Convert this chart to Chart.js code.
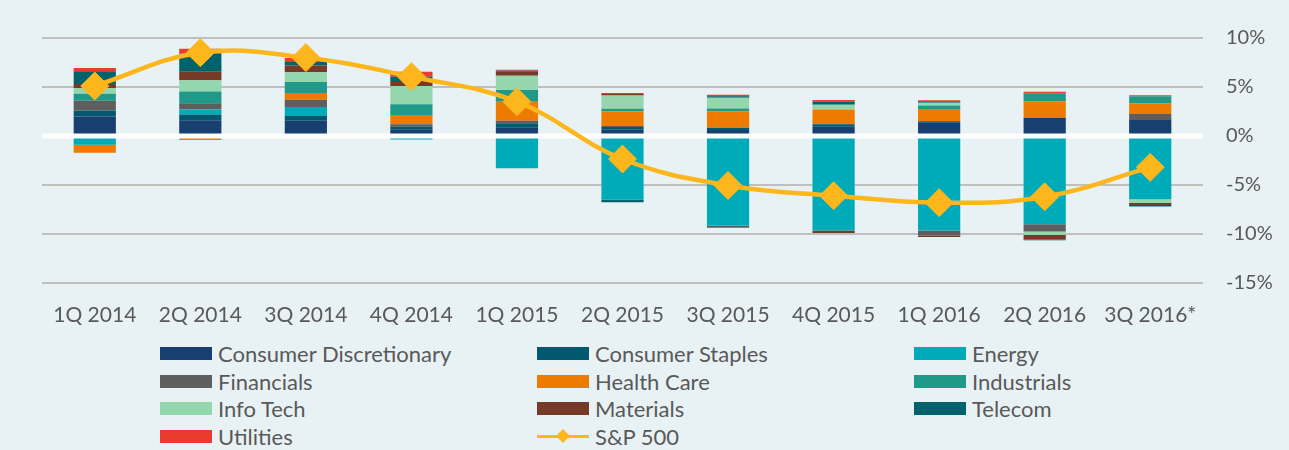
<!DOCTYPE html>
<html>
<head>
<meta charset="utf-8">
<script src="https://cdn.jsdelivr.net/npm/chart.js@4"></script>
<style>
    html, body { margin: 0; padding: 0; background: #e8f1f4; }
    #wrap { position: relative; width: 1289px; height: 450px; overflow: hidden; }
    #chart { position: absolute; left: 0; top: 0; }
    #legend {
        position: absolute; left: 160px; top: 340px;
        display: grid; grid-template-columns: 377px 377px 377px;
        grid-auto-rows: 27.6px;
        font-family: Lato, sans-serif; font-size: 22px; color: #595959;
    }
    .item { display: flex; align-items: center; white-space: nowrap; }
    .box { width: 52px; height: 13px; margin-right: 6px; flex: none; }
    .lineKey { position: relative; width: 52px; height: 13px; margin-right: 6px; flex: none; }
    .lineKey .bar { position: absolute; left: 0; right: 0; top: 5px; height: 3px; }
    .lineKey .dia { position: absolute; left: 21px; top: 1px; width: 10px; height: 10px; transform: rotate(45deg); }
</style>
</head>
<body>
<div id="wrap">
    <canvas id="chart" width="1289" height="335"></canvas>
    <div id="legend"></div>
</div>
<script>
const quarters = ['1Q 2014', '2Q 2014', '3Q 2014', '4Q 2014', '1Q 2015', '2Q 2015', '3Q 2015', '4Q 2015', '1Q 2016', '2Q 2016', '3Q 2016*'];

const consumerDiscretionary = [2.0, 1.6, 1.55, 0.7, 0.9, 0.65, 0.6, 0.95, 1.4, 1.85, 1.7];
const consumerStaples = [0.6, 0.6, 0.5, 0.25, 0.4, 0.27, 0.23, 0.25, 0.1, 0, 0];
const energy = [-0.9, 0.5, 0.9, -0.35, -3.3, -6.5, -9.15, -9.65, -9.65, -9.0, -6.45];
const financials = [1.0, 0.65, 0.75, 0.25, 0.25, 0.1, -0.2, 0, -0.5, -0.75, 0.55];
const healthCare = [-0.8, -0.4, 0.7, 0.95, 1.95, 1.5, 1.7, 1.5, 1.25, 1.7, 1.1];
const industrials = [0.7, 1.2, 1.1, 1.1, 1.2, 0.25, 0.27, 0, 0.35, 0.8, 0.7];
const infoTech = [0.6, 1.15, 1.0, 1.85, 1.45, 1.35, 1.1, 0.5, 0.3, -0.35, -0.35];
const materials = [0.4, 0.9, 0.7, 0.5, 0.4, 0.17, 0, -0.25, -0.15, -0.45, -0.25];
const telecom = [1.3, 1.8, 0.35, 0.45, 0.1, -0.25, 0.15, 0.3, 0.15, -0.1, -0.15];
const utilities = [0.35, 0.5, 0.4, 0.5, 0.1, 0.1, 0.15, 0.17, 0.1, 0.17, 0.1];
const sp500 = [5.1, 8.5, 8.0, 6.05, 3.5, -2.35, -5.05, -6.1, -6.8, -6.2, -3.2];

const yTicks = [10, 5, 0, -5, -10, -15];

const sectors = [
    { label: 'Consumer Discretionary', data: consumerDiscretionary, color: '#173f6f' },
    { label: 'Consumer Staples', data: consumerStaples, color: '#02586e' },
    { label: 'Energy', data: energy, color: '#00abb9' },
    { label: 'Financials', data: financials, color: '#5e5e5e' },
    { label: 'Health Care', data: healthCare, color: '#ef7a00' },
    { label: 'Industrials', data: industrials, color: '#1f9a89' },
    { label: 'Info Tech', data: infoTech, color: '#94d6ad' },
    { label: 'Materials', data: materials, color: '#763a28' },
    { label: 'Telecom', data: telecom, color: '#00636b' },
    { label: 'Utilities', data: utilities, color: '#e73c2f' }
];
const lineColor = '#fdb61c';

const datasets = sectors.map(s => ({
    type: 'bar',
    label: s.label,
    data: s.data,
    backgroundColor: s.color,
    borderWidth: 0,
    stack: 'sectors',
    order: 1,
    barPercentage: 0.4,
    categoryPercentage: 1
}));
datasets.push({
    type: 'line',
    label: 'S&P 500',
    data: sp500,
    borderColor: lineColor,
    backgroundColor: lineColor,
    borderWidth: 4.5,
    tension: 0.4,
    pointStyle: 'rectRot',
    pointRadius: 14,
    pointBorderWidth: 1,
    order: 0,
    clip: false
});

// white zero line, drawn above the bars but under the S&P line
const zeroLine = {
    id: 'zeroLine',
    beforeDatasetDraw(chart, args) {
        if (args.meta.type !== 'line') return;
        const { ctx, chartArea } = chart;
        const y = chart.scales.y.getPixelForValue(0);
        ctx.save();
        ctx.strokeStyle = '#ffffff';
        ctx.lineWidth = 5;
        ctx.beginPath();
        ctx.moveTo(chartArea.left, y);
        ctx.lineTo(chartArea.right, y);
        ctx.stroke();
        ctx.restore();
    }
};

new Chart(document.getElementById('chart'), {
    data: { labels: quarters, datasets: datasets },
    plugins: [zeroLine],
    options: {
        responsive: false,
        animation: false,
        layout: { padding: { top: 38, left: 42, right: 0, bottom: 0 } },
        plugins: {
            legend: { display: false },
            tooltip: { enabled: false }
        },
        scales: {
            x: {
                stacked: true,
                grid: { display: false },
                border: { display: false },
                afterFit(scale) { scale.height = 52; },
                ticks: {
                    color: '#595959',
                    font: { family: 'Lato', size: 21 },
                    padding: 12,
                    maxRotation: 0
                }
            },
            y: {
                stacked: true,
                position: 'right',
                min: -15,
                max: 10,
                afterFit(scale) { scale.width = 86; },
                afterBuildTicks(scale) { scale.ticks = yTicks.map(v => ({ value: v })); },
                grid: {
                    color: ctx => ctx.tick && ctx.tick.value === 0 ? 'rgba(0,0,0,0)' : '#bfbfbf',
                    lineWidth: 2,
                    drawTicks: false
                },
                border: { display: false },
                ticks: {
                    color: '#595959',
                    font: { family: 'Lato', size: 20 },
                    padding: 23,
                    callback: v => v + '%'
                }
            }
        }
    }
});

// legend in three columns, like the original
const legend = document.getElementById('legend');
sectors.forEach(s => {
    legend.innerHTML += `<div class="item"><span class="box" style="background:${s.color}"></span>${s.label}</div>`;
});
legend.innerHTML += `<div class="item"><span class="lineKey"><span class="bar" style="background:${lineColor}"></span><span class="dia" style="background:${lineColor}"></span></span>S&amp;P 500</div>`;
</script>
</body>
</html>
